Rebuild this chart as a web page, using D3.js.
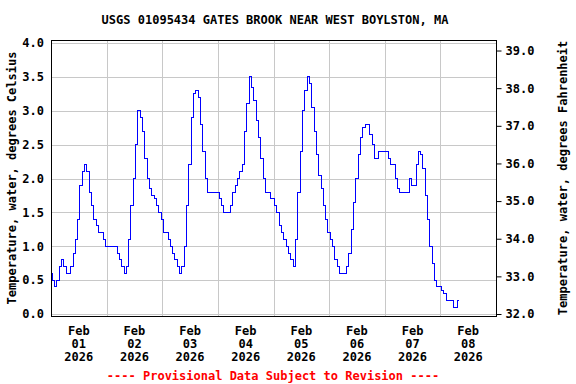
<!DOCTYPE html>
<html lang="en">
<head>
    <meta charset="UTF-8">
    <title>USGS 01095434 Gates Brook</title>
    <script src="https://d3js.org/d3.v7.min.js"></script>
    <style>
        body { margin: 0; background: #fff; }
        text {
            font-family: "DejaVu Sans Mono", monospace;
            font-weight: bold;
            font-size: 12px;
            fill: #000;
        }
        .grid line { stroke: #c8c8c8; stroke-width: 1px; }
        .frame { fill: none; stroke: #000; stroke-width: 1px; }
        .series { fill: none; stroke: #0000ff; stroke-width: 1px; shape-rendering: crispEdges; }
    </style>
</head>
<body>
<script>
    var width = 576, height = 384;

    var title = "USGS 01095434 GATES BROOK NEAR WEST BOYLSTON, MA";
    var leftTitle = "Temperature, water, degrees Celsius";
    var rightTitle = "Temperature, water, degrees Fahrenheit";
    var footnote = "---- Provisional Data Subject to Revision ----";

    // hourly readings starting Feb 01 2026 00:00, degrees C
    var startTime = "2026-02-01T00:00";
    var tempC = [
        0.6, 0.5, 0.4, 0.5, 0.7, 0.8, 0.7, 0.6, 0.6, 0.7, 0.9, 1.1,
        1.4, 1.9, 2.1, 2.2, 2.1, 1.8, 1.6, 1.4, 1.3, 1.2, 1.2, 1.1,
        1.0, 1.0, 1.0, 1.0, 1.0, 0.9, 0.8, 0.7, 0.6, 0.7, 1.1, 1.6,
        2.0, 2.5, 3.0, 2.9, 2.7, 2.3, 2.0, 1.85, 1.75, 1.7, 1.6, 1.5,
        1.4, 1.2, 1.2, 1.1, 1.0, 0.9, 0.8, 0.7, 0.6, 0.7, 1.0, 1.6,
        2.2, 2.9, 3.25, 3.3, 3.2, 2.8, 2.4, 2.0, 1.8, 1.8, 1.8, 1.8,
        1.8, 1.7, 1.6, 1.5, 1.5, 1.5, 1.6, 1.8, 1.9, 2.0, 2.1, 2.2,
        2.7, 3.1, 3.5, 3.35, 3.15, 2.85, 2.6, 2.3, 2.0, 1.8, 1.8, 1.7,
        1.7, 1.6, 1.5, 1.3, 1.2, 1.1, 1.0, 0.9, 0.8, 0.7, 1.1, 1.8,
        2.4, 3.0, 3.3, 3.5, 3.4, 3.05, 2.7, 2.35, 2.05, 1.85, 1.6, 1.4,
        1.2, 1.1, 1.0, 0.8, 0.7, 0.6, 0.6, 0.6, 0.7, 0.9, 1.25, 1.65,
        2.0, 2.35, 2.6, 2.75, 2.8, 2.8, 2.65, 2.5, 2.3, 2.3, 2.4, 2.4,
        2.4, 2.4, 2.3, 2.2, 2.2, 2.0, 1.85, 1.8, 1.8, 1.8, 1.8, 2.0,
        1.9, 1.9, 2.2, 2.4, 2.35, 2.15, 1.75, 1.4, 1.0, 0.75, 0.5, 0.4,
        0.4, 0.35, 0.3, 0.2, 0.2, 0.2, 0.1, 0.1, 0.2
    ];

    var dayTicks = ["2026-02-01", "2026-02-02", "2026-02-03", "2026-02-04",
                    "2026-02-05", "2026-02-06", "2026-02-07", "2026-02-08"];
    var celsiusTicks = [0, 0.5, 1, 1.5, 2, 2.5, 3, 3.5, 4];
    var fahrenheitTicks = [32, 33, 34, 35, 36, 37, 38, 39];

    // plot frame (note: "top" is reserved on window, so use other names)
    var plotL = 51, plotR = 496, plotT = 40, plotB = 316;

    var parseTime = d3.timeParse("%Y-%m-%dT%H:%M");
    var parseDay = d3.timeParse("%Y-%m-%d");
    var t0 = parseTime(startTime);

    var data = tempC.map(function(v, i){
        return {time: d3.timeHour.offset(t0, i), value: v};
    });

    var x = d3.scaleTime()
        .domain([parseDay("2026-02-01"), parseDay("2026-02-09")])
        .range([plotL, plotR]);

    var y = d3.scaleLinear().domain([0, 4]).range([314, 43]);
    var yF = d3.scaleLinear().domain([32, 32 + 4 * 1.8]).range([314, 43]);

    var svg = d3.select("body").append("svg")
        .attr("width", width)
        .attr("height", height);

    var crisp = function(v){ return Math.round(v) + 0.5; };

    // gridlines
    var grid = svg.append("g").attr("class", "grid");
    grid.selectAll(".h").data(celsiusTicks).enter().append("line")
        .attr("x1", plotL).attr("x2", plotR)
        .attr("y1", function(d){ return crisp(y(d)); })
        .attr("y2", function(d){ return crisp(y(d)); });

    var midnights = d3.timeDay.range(d3.timeDay.offset(x.domain()[0], 1), x.domain()[1]);
    grid.selectAll(".v").data(midnights).enter().append("line")
        .attr("y1", plotT).attr("y2", plotB)
        .attr("x1", function(d){ return crisp(x(d)); })
        .attr("x2", function(d){ return crisp(x(d)); });

    // data line
    var line = d3.line()
        .x(function(d){ return x(d.time); })
        .y(function(d){ return y(d.value); })
        .curve(d3.curveStep);

    svg.append("path")
        .datum(data)
        .attr("class", "series")
        .attr("d", line);

    svg.append("rect")
        .attr("class", "frame")
        .attr("x", plotL + 0.5).attr("y", plotT + 0.5)
        .attr("width", plotR - plotL).attr("height", plotB - plotT);

    // left axis
    svg.append("g")
        .attr("transform", "translate(" + plotL + ",0)")
        .call(d3.axisLeft(y).tickValues(celsiusTicks).tickSize(0).tickPadding(7)
            .tickFormat(d3.format(".1f")))
        .call(function(g){ g.select(".domain").remove(); });

    // right axis
    svg.append("g")
        .attr("transform", "translate(" + (plotR + 0.5) + ",0)")
        .call(d3.axisRight(yF).tickValues(fahrenheitTicks).tickSize(5).tickPadding(4)
            .tickFormat(d3.format(".1f")))
        .call(function(g){
            g.select(".domain").remove();
            g.selectAll("line").attr("stroke", "#000");
        });

    // x labels at noon of each day
    var fmtMon = d3.timeFormat("%b"), fmtDay = d3.timeFormat("%d"), fmtYear = d3.timeFormat("%Y");
    var xl = svg.append("g").selectAll("text")
        .data(dayTicks.map(parseDay))
        .enter().append("text")
        .attr("text-anchor", "middle")
        .attr("transform", function(d){
            return "translate(" + x(d3.timeHour.offset(d, 12)) + ",0)";
        });
    xl.append("tspan").attr("x", 0).attr("y", 335).text(function(d){ return fmtMon(d); });
    xl.append("tspan").attr("x", 0).attr("y", 348).text(function(d){ return fmtDay(d); });
    xl.append("tspan").attr("x", 0).attr("y", 361).text(function(d){ return fmtYear(d); });

    svg.append("text")
        .attr("x", 275).attr("y", 24)
        .attr("text-anchor", "middle")
        .text(title);

    svg.append("text")
        .attr("transform", "translate(16," + (plotT + plotB) / 2 + ") rotate(-90)")
        .attr("text-anchor", "middle")
        .text(leftTitle);

    svg.append("text")
        .attr("transform", "translate(567," + (plotT + plotB) / 2 + ") rotate(-90)")
        .attr("text-anchor", "middle")
        .text(rightTitle);

    svg.append("text")
        .attr("x", 273).attr("y", 380)
        .attr("text-anchor", "middle")
        .style("fill", "#ff0000")
        .text(footnote);
</script>
</body>
</html>
